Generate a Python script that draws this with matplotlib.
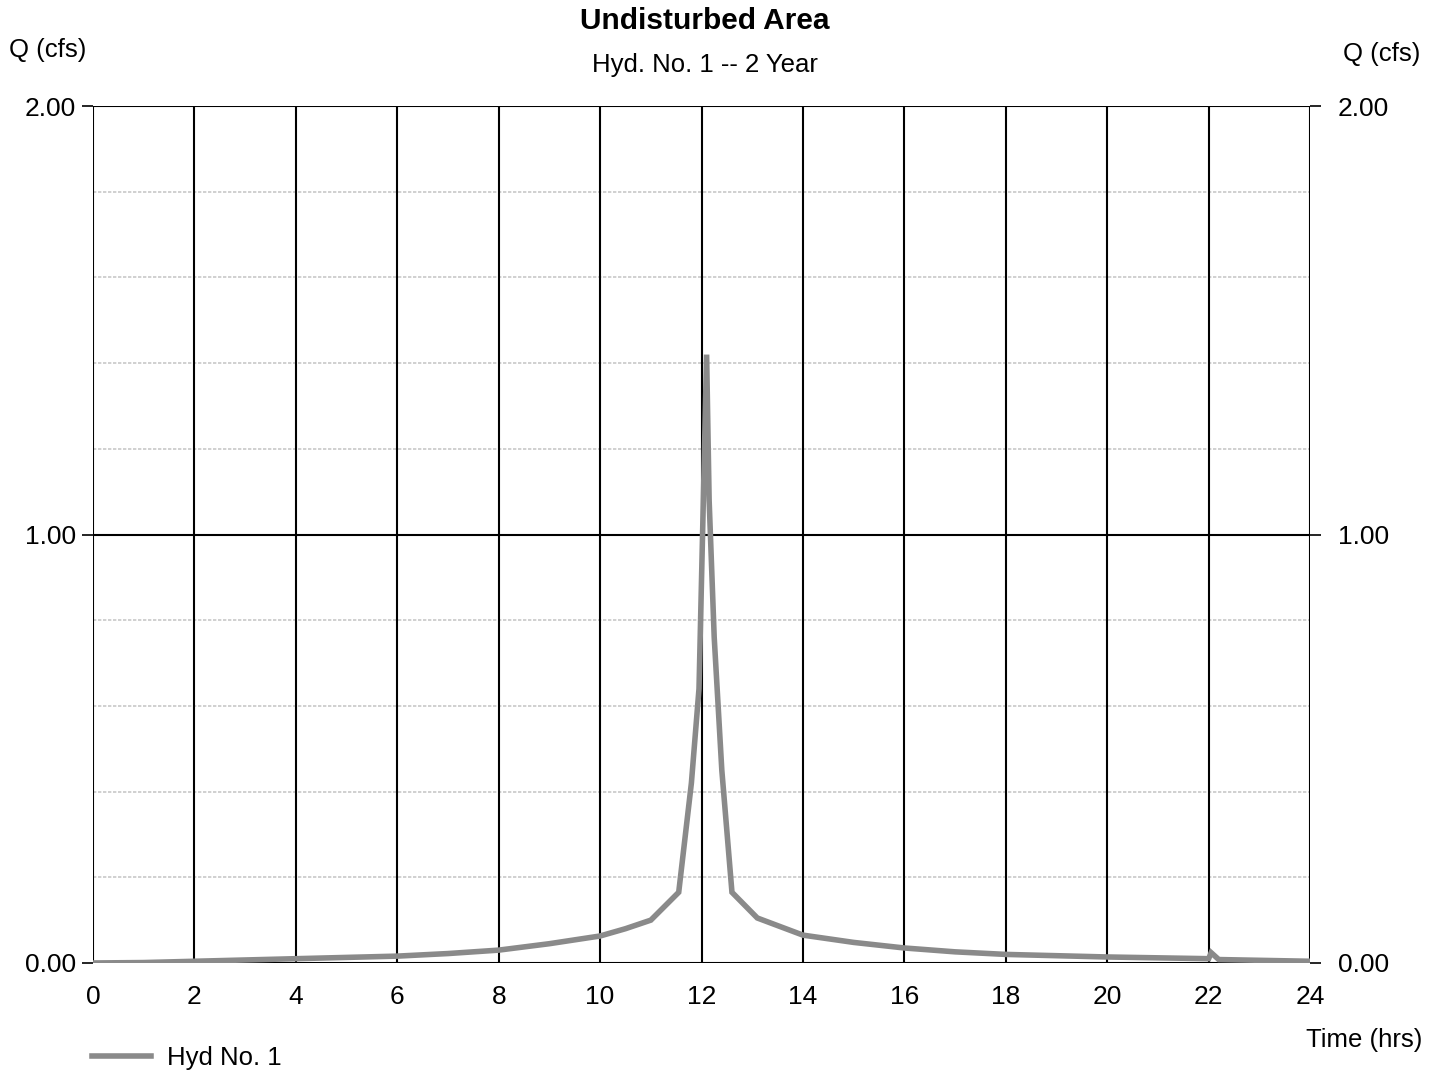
#!/usr/bin/env python3
"""
    Hydrograph: Undisturbed Area, Hyd. No. 1 -- 2 Year
"""

import matplotlib
matplotlib.use("Agg")
from matplotlib import pyplot as plt

plt.rcParams["font.family"] = ["Liberation Sans", "DejaVu Sans"]

# hydrograph values
time_hrs = [0.0, 1.0, 2.0, 3.0, 4.0, 5.0, 6.0, 7.0, 8.0, 9.0, 10.0, 10.5, 11.0,
            11.55, 11.8, 11.95, 12.03, 12.1, 12.15, 12.25, 12.4, 12.6, 13.1,
            14.0, 15.0, 16.0, 17.0, 18.0, 19.0, 20.0, 21.0, 22.0, 22.05, 22.2, 24.0]
flow_cfs = [0.000, 0.001, 0.004, 0.007, 0.010, 0.013, 0.016, 0.022, 0.030, 0.045,
            0.063, 0.080, 0.100, 0.165, 0.420, 0.640, 1.050, 1.420, 1.080, 0.760,
            0.450, 0.165, 0.105, 0.065, 0.048, 0.035, 0.026, 0.020, 0.017, 0.014,
            0.012, 0.010, 0.024, 0.008, 0.004]

x_ticks = list(range(0, 25, 2))
y_major = [0.0, 1.0, 2.0]
y_minor = [0.2, 0.4, 0.6, 0.8, 1.2, 1.4, 1.6, 1.8]
y_labels = ["0.00", "1.00", "2.00"]


def main() -> int:
    fig = plt.figure(figsize=(14.42, 10.72), dpi=100)
    ax = fig.add_axes([0.0645, 0.1017, 0.844, 0.7993])

    for y in y_minor:
        ax.axhline(y, color="#c8c8c8", lw=1.2, ls=(0, (2, 1)), zorder=1)
    for y in y_major:
        ax.axhline(y, color="black", lw=1.5, zorder=2)
    for x in x_ticks:
        ax.axvline(x, color="black", lw=1.5, zorder=2)

    line, = ax.plot(time_hrs, flow_cfs, color="#8a8a8a", lw=4,
                    solid_joinstyle="miter", zorder=3, label="Hyd No. 1")

    ax.set_xlim(0, 24)
    ax.set_ylim(0, 2)
    for s in ax.spines.values():
        s.set_visible(False)

    ax.set_xticks(x_ticks)
    ax.set_xticklabels([str(t) for t in x_ticks])
    ax.set_yticks(y_major)
    ax.set_yticklabels(y_labels)
    ax.tick_params(axis="both", labelsize=19, length=8, width=1.2, pad=4)
    ax.tick_params(axis="x", length=0, pad=16)

    ax2 = ax.twinx()
    ax2.set_ylim(0, 2)
    ax2.set_yticks(y_major)
    ax2.set_yticklabels(y_labels)
    ax2.tick_params(axis="y", labelsize=19, length=8, width=1.2, pad=12)
    for s in ax2.spines.values():
        s.set_visible(False)

    fig.text(0.489, 0.980, "Undisturbed Area", ha="center", va="center",
             fontsize=21.5, fontweight="bold")
    fig.text(0.489, 0.939, "Hyd. No. 1 -- 2 Year", ha="center", va="center",
             fontsize=18.5)
    fig.text(0.033, 0.953, "Q (cfs)", ha="center", va="center", fontsize=18.5)
    fig.text(0.958, 0.950, "Q (cfs)", ha="center", va="center", fontsize=18.5)
    fig.text(0.946, 0.030, "Time (hrs)", ha="center", va="center", fontsize=18.5)

    fig.legend(handles=[line], loc="lower left", bbox_to_anchor=(0.048, -0.020),
               frameon=False, fontsize=18.5, handlelength=2.3, handletextpad=0.6)

    fig.savefig("out.png", dpi=100)
    plt.close(fig)
    return 0


if __name__ == "__main__":
    raise SystemExit(main())
